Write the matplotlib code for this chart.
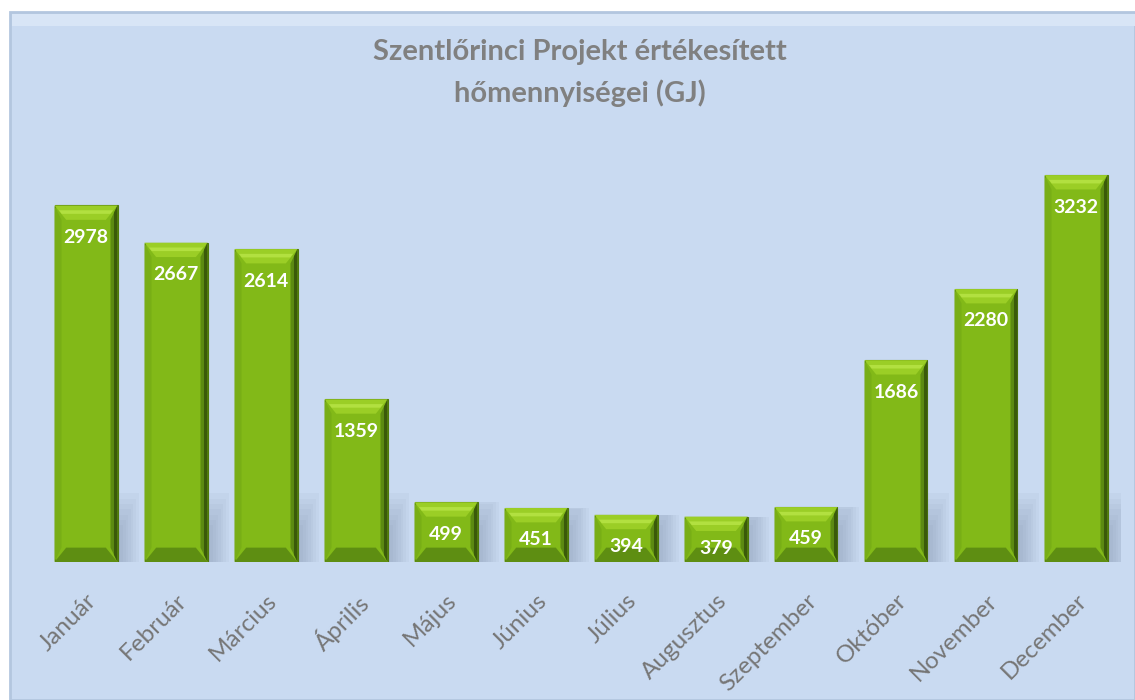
import matplotlib.pyplot as plt
from matplotlib.patches import FancyBboxPatch, Polygon
import numpy as np

plt.rcParams['font.family'] = ['Lato', 'DejaVu Sans']

honapok = ['Január', 'Február', 'Március', 'Április', 'Május', 'Június',
           'Július', 'Augusztus', 'Szeptember', 'Október', 'November', 'December']
ertekek = [2978, 2667, 2614, 1359, 499, 451, 394, 379, 459, 1686, 2280, 3232]
cim = 'Szentlőrinci Projekt értékesített\nhőmennyiségei (GJ)'

fig = plt.figure(figsize=(11.35, 7), dpi=100)
fig.patch.set_facecolor('white')

# kék háttér keret
hatter = FancyBboxPatch((10 / 1135, 0), 1 - 10 / 1135, 1 - 12 / 700,
                        boxstyle='square,pad=0', transform=fig.transFigure,
                        facecolor='#C9DAF1', edgecolor='#B3C6DF', linewidth=2, zorder=-2)
fig.patches.append(hatter)
# világos felső perem
perem = FancyBboxPatch((12 / 1135, 1 - 26 / 700), 1 - 12 / 1135, 12 / 700,
                       boxstyle='square,pad=0', transform=fig.transFigure,
                       facecolor='#D8E5F6', edgecolor='none', zorder=-1)
fig.patches.append(perem)

ax = fig.add_axes([41 / 1135, 138 / 700, 1080 / 1135, 442 / 700])
ax.set_facecolor('none')
x = np.arange(len(ertekek))
sz = 0.7

# elmosott árnyék az oszlopok mögött
for k in range(8):
    ax.bar(x + 0.12 + 0.015 * k, np.minimum(ertekek, 260 + 45 * k),
           width=sz * (0.75 + 0.04 * k), color='#7E90AA', alpha=0.07,
           zorder=1, linewidth=0)

bars = ax.bar(x, ertekek, width=sz, color='#82B918', edgecolor='#4F7A0C',
              linewidth=0.8, zorder=2)

# bevel effektus
bev = 0.13
for b in bars:
    x0 = b.get_x()
    x1 = x0 + b.get_width()
    h = b.get_height()
    d = 120
    # felső világos sáv
    ax.add_patch(Polygon([(x0, h), (x1, h), (x1 - bev, h - d), (x0 + bev, h - d)],
                         closed=True, facecolor='#9BCE26', edgecolor='none', zorder=3))
    ax.add_patch(Polygon([(x0 + 0.05, h - 40), (x1 - 0.05, h - 40),
                          (x1 - 0.08, h - 70), (x0 + 0.08, h - 70)],
                         closed=True, facecolor='#B2E040', edgecolor='none', zorder=3))
    # jobb oldali sötét sáv
    ax.add_patch(Polygon([(x1, h), (x1, 0), (x1 - bev * 0.6, d), (x1 - bev * 0.6, h - d)],
                         closed=True, facecolor='#5C8A12', edgecolor='none', zorder=3))
    ax.add_patch(Polygon([(x1, h), (x1, 0), (x1 - bev * 0.3, d * 0.5), (x1 - bev * 0.3, h - d * 0.5)],
                         closed=True, facecolor='#3A5A0A', edgecolor='none', zorder=3))
    # bal oldali sáv
    ax.add_patch(Polygon([(x0, h), (x0, 0), (x0 + bev * 0.6, d), (x0 + bev * 0.6, h - d)],
                         closed=True, facecolor='#78AE16', edgecolor='none', zorder=3))
    # alsó sáv
    ax.add_patch(Polygon([(x0, 0), (x1, 0), (x1 - bev, d), (x0 + bev, d)],
                         closed=True, facecolor='#5E8E12', edgecolor='none', zorder=3))

for xi, v in zip(x, ertekek):
    ax.annotate(str(v), (xi, v), xytext=(0, -23), textcoords='offset points',
                ha='center', va='center', color='white', fontsize=14,
                fontweight='bold', zorder=5)

ax.set_xlim(-0.5, len(ertekek) - 0.5)
ax.set_ylim(0, 3692)
ax.set_xticks(x)
ax.set_xticklabels(honapok, rotation=45, ha='right', rotation_mode='anchor',
                   color='#767676', fontsize=17.5)
ax.tick_params(axis='x', length=0, pad=20)
ax.set_yticks([])
for s in ax.spines.values():
    s.set_visible(False)

fig.text(0.511, 1 - 73 / 700, cim, ha='center', va='center', color='#808080',
         fontsize=21, fontweight='bold', linespacing=1.6)

plt.savefig('out.png', dpi=100)
